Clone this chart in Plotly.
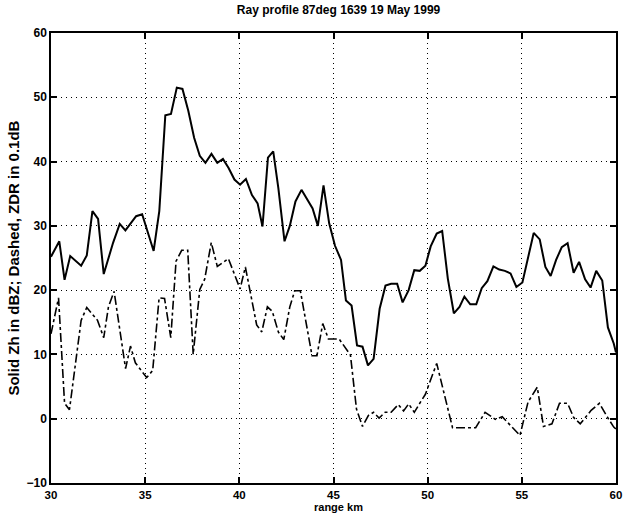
import plotly.graph_objects as go

# Solid: Zh in dBZ  (range km, value)
zh_range = [30.0, 30.44, 30.72, 31.02, 31.6, 31.9, 32.2, 32.5, 32.8, 33.3, 33.65, 33.95,
            34.52, 34.84, 35.45, 35.75, 36.07, 36.37, 36.68, 36.98, 37.29, 37.6, 37.9,
            38.2, 38.52, 38.83, 39.13, 39.43, 39.74, 40.04, 40.35, 40.67, 40.97, 41.23,
            41.52, 41.8, 42.07, 42.4, 42.68, 42.98, 43.3, 43.6, 43.89, 44.17, 44.47,
            44.77, 45.08, 45.4, 45.66, 45.96, 46.25, 46.54, 46.83, 47.13, 47.45, 47.76,
            48.06, 48.38, 48.67, 48.99, 49.29, 49.58, 49.88, 50.16, 50.48, 50.77, 51.07,
            51.39, 51.69, 51.95, 52.26, 52.58, 52.87, 53.17, 53.49, 53.8, 54.1, 54.4,
            54.71, 55.03, 55.33, 55.63, 55.95, 56.25, 56.53, 56.82, 57.12, 57.43, 57.75,
            58.04, 58.36, 58.65, 58.95, 59.27, 59.57, 59.88, 60.0]
zh_dbz = [25.2, 27.6, 21.6, 25.3, 23.8, 25.4, 32.3, 31.1, 22.5, 27.4, 30.3, 29.3,
          31.5, 31.8, 26.1, 32.3, 47.2, 47.4, 51.5, 51.3, 47.9, 43.7, 40.9,
          39.8, 41.2, 39.8, 40.4, 39.0, 37.2, 36.4, 37.3, 34.8, 33.5, 29.9,
          40.6, 41.6, 35.9, 27.6, 30.0, 33.8, 35.6, 34.2, 32.7, 30.0, 36.3,
          30.4, 26.9, 24.7, 18.4, 17.6, 11.4, 11.2, 8.3, 9.3, 17.1, 20.7,
          21.0, 21.0, 18.1, 20.0, 23.1, 23.0, 23.8, 26.8, 28.8, 29.2, 21.8,
          16.4, 17.4, 19.0, 17.8, 17.8, 20.3, 21.4, 23.7, 23.2, 23.0, 22.6,
          20.5, 21.2, 25.2, 28.9, 27.9, 23.6, 22.2, 24.7, 26.7, 27.3, 22.7,
          24.4, 21.7, 20.4, 23.0, 21.5, 14.2, 11.7, 10.3]

# Dashed: ZDR in 0.1 dB  (range km, value)
zdr_range = [30.0, 30.4, 30.72, 30.98, 31.6, 31.9, 32.47, 32.8, 33.05, 33.35, 33.96,
             34.22, 34.48, 35.08, 35.4, 35.74, 36.03, 36.36, 36.64, 36.94, 37.26,
             37.55, 37.9, 38.16, 38.51, 38.83, 39.42, 39.74, 40.04, 40.32, 40.92,
             41.19, 41.49, 41.75, 42.07, 42.36, 42.68, 42.94, 43.24, 43.86, 44.12,
             44.43, 44.73, 45.08, 45.3, 45.9, 46.22, 46.54, 46.85, 47.13, 47.42,
             47.74, 48.06, 48.44, 48.72, 48.99, 49.29, 49.6, 49.88, 50.1, 50.48,
             51.32, 52.55, 53.05, 53.59, 53.96, 54.9, 55.33, 55.82, 56.15, 56.6,
             57.0, 57.43, 57.75, 58.1, 58.68, 59.12, 59.53, 59.88, 60.0]
zdr_val = [13.2, 18.8, 2.4, 1.4, 15.3, 17.3, 15.3, 12.6, 17.4, 19.8, 7.8,
           11.3, 8.7, 6.4, 7.5, 18.8, 18.7, 12.6, 24.5, 26.2, 26.2,
           10.0, 20.1, 21.7, 27.4, 23.7, 24.9, 22.4, 20.2, 23.6, 14.6,
           13.5, 17.4, 16.7, 13.5, 12.3, 17.4, 19.9, 19.9, 9.8, 9.8,
           14.8, 12.4, 12.4, 12.4, 9.9, 1.5, -1.2, 0.5, 1.0, 0.1,
           1.0, 1.0, 2.2, 1.2, 2.3, 1.0, 2.5, 3.8, 5.6, 8.6,
           -1.4, -1.4, 1.0, -0.1, 0.3, -2.6, 2.6, 4.9, -1.2, -0.8,
           2.4, 2.4, 0.2, -0.8, 1.3, 2.4, 0.3, -1.3, -1.6]

x_ticks = [30, 35, 40, 45, 50, 55, 60]
y_ticks = [-10, 0, 10, 20, 30, 40, 50, 60]

FONT = "Liberation Sans, Arial, sans-serif"

fig = go.Figure()
fig.add_trace(go.Scatter(x=zh_range, y=zh_dbz, mode="lines",
                         line=dict(color="black", width=2), showlegend=False))
fig.add_trace(go.Scatter(x=zdr_range, y=zdr_val, mode="lines",
                         line=dict(color="black", width=1.6, dash="dashdot"),
                         showlegend=False))

axis_common = dict(
    showgrid=True, gridcolor="black", griddash="1px,4px", gridwidth=1.2,
    showline=True, linecolor="black", linewidth=1.5, mirror="ticks",
    ticks="inside", ticklen=6, tickcolor="black", tickwidth=1.5,
    zeroline=False,
)

fig.update_layout(
    width=630, height=514,
    margin=dict(l=51, r=8, t=33, b=31),
    paper_bgcolor="white", plot_bgcolor="white",
    title=dict(text="Ray profile 87deg 1639 19 May 1999",
               font=dict(family=FONT, size=12, color="black", weight="bold"),
               x=0.509, xanchor="center", y=0.981, yanchor="middle",
               xref="paper", yref="container"),
    xaxis=dict(range=[30, 60], tickvals=x_ticks,
               tickfont=dict(family=FONT, size=11.5, color="black", weight="bold"),
               **axis_common),
    yaxis=dict(range=[-10, 60], tickvals=y_ticks,
               tickfont=dict(family=FONT, size=12, color="black", weight="bold"),
               **axis_common),
    annotations=[
        dict(text="range km", xref="paper", yref="paper", x=0.508, y=-0.053,
             xanchor="center", yanchor="middle", showarrow=False, borderpad=0,
             font=dict(family=FONT, size=11, color="black", weight="bold")),
        dict(text="Solid Zh in dBZ; Dashed, ZDR in 0.1dB", xref="paper", yref="paper",
             x=-0.068, y=0.5, xanchor="center", yanchor="middle", textangle=-90,
             showarrow=False,
             font=dict(family=FONT, size=15, color="black", weight="bold")),
    ],
)

fig.write_html("out.html", config={"displayModeBar": False},
               post_script="document.body.style.margin='0';document.body.style.overflow='hidden';")
